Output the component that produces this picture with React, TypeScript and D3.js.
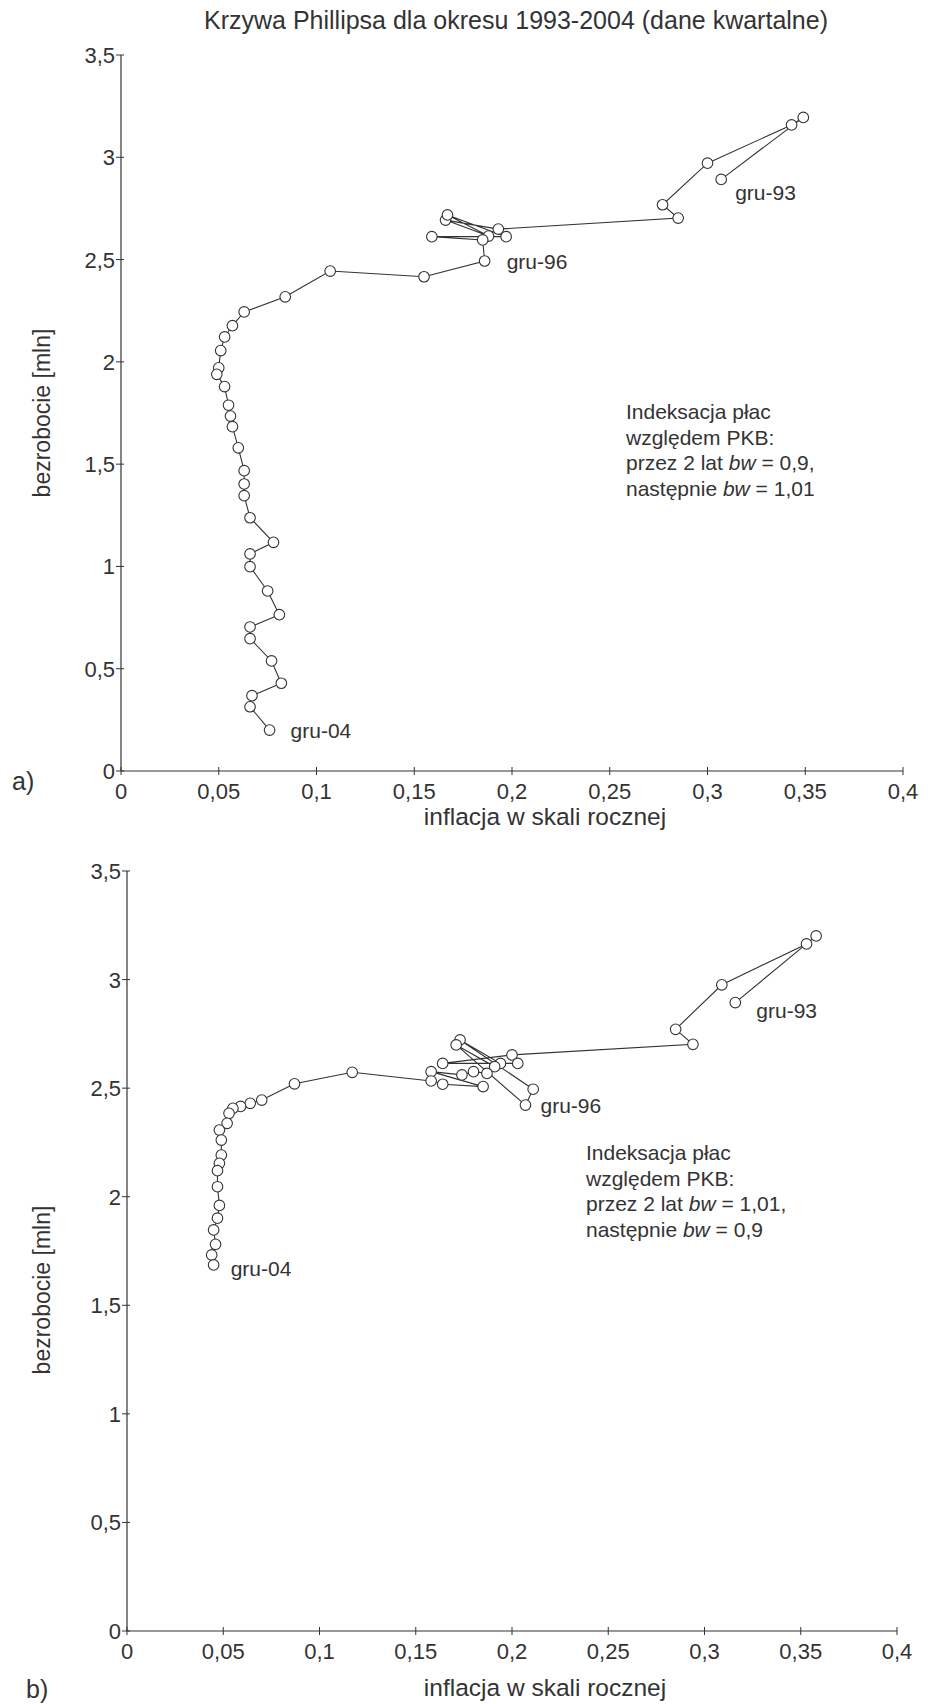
import React, { useEffect } from "react";
import * as d3 from "d3";

// wspólne osie
const xTicks = [0, 0.05, 0.1, 0.15, 0.2, 0.25, 0.3, 0.35, 0.4];
const yTicks = [0, 0.5, 1, 1.5, 2, 2.5, 3, 3.5];

// a) bw = 0,9 przez 2 lata, potem 1,01  (gru-93 ... gru-04)
const inflacjaA = [
  0.307, 0.349, 0.343, 0.300, 0.277, 0.285, 0.193, 0.166, 0.188, 0.167, 0.197,
  0.159, 0.185, 0.186, 0.155, 0.107, 0.084, 0.063, 0.057, 0.053, 0.051, 0.050,
  0.049, 0.053, 0.055, 0.056, 0.057, 0.060, 0.063, 0.063, 0.063, 0.066, 0.078,
  0.066, 0.066, 0.075, 0.081, 0.066, 0.066, 0.077, 0.082, 0.067, 0.066, 0.076,
];
const bezrobocieA = [
  2.892, 3.195, 3.158, 2.971, 2.768, 2.703, 2.649, 2.693, 2.615, 2.718, 2.612,
  2.612, 2.596, 2.493, 2.416, 2.444, 2.318, 2.244, 2.177, 2.122, 2.055, 1.971,
  1.939, 1.879, 1.788, 1.735, 1.683, 1.58, 1.468, 1.403, 1.346, 1.238, 1.118,
  1.061, 0.999, 0.88, 0.764, 0.704, 0.647, 0.538, 0.429, 0.368, 0.314, 0.2,
];

// b) bw = 1,01 przez 2 lata, potem 0,9
const inflacjaB = [
  0.316, 0.358, 0.353, 0.309, 0.285, 0.294, 0.2, 0.164, 0.203, 0.194, 0.173,
  0.211, 0.207, 0.171, 0.191, 0.187, 0.18, 0.174, 0.158, 0.185, 0.164, 0.158,
  0.117, 0.087, 0.07, 0.064, 0.059, 0.055, 0.053, 0.052, 0.048, 0.049, 0.049,
  0.048, 0.047, 0.047, 0.048, 0.047, 0.045, 0.046, 0.044, 0.045,
];
const bezrobocieB = [
  2.894, 3.201, 3.164, 2.976, 2.771, 2.702, 2.653, 2.614, 2.614, 2.614, 2.722,
  2.495, 2.422, 2.699, 2.599, 2.568, 2.576, 2.561, 2.576, 2.507, 2.518, 2.533,
  2.573, 2.52, 2.445, 2.43, 2.416, 2.407, 2.384, 2.338, 2.307, 2.261, 2.192,
  2.154, 2.12, 2.046, 1.96, 1.901, 1.847, 1.781, 1.732, 1.686,
];

const etykietyA = [
  { i: 0, t: "gru-93" },
  { i: 13, t: "gru-96" },
  { i: inflacjaA.length - 1, t: "gru-04" },
];
const etykietyB = [
  { i: 0, t: "gru-93" },
  { i: 12, t: "gru-96" },
  { i: inflacjaB.length - 1, t: "gru-04" },
];

const opisA = ["0,9,", "1,01"];
const opisB = ["1,01,", "0,9"];

const INK = "#333";
const FONT = "'Liberation Sans', Arial, sans-serif";
const fmt = (v: number) => String(v).replace(".", ",");

type PanelProps = {
  xs: number[];
  ys: number[];
  labels: { i: number; t: string }[];
  offsets: [number, number][];
  opis: string[];
  letter: string;
  left: number;
  right: number;
  top: number;
  bottom: number;
  note: [number, number];
  yTitle: number;
  xTitle: [number, number];
  letterPos: [number, number];
};

function Panel(p: PanelProps) {
  const x = d3.scaleLinear().domain([0, 0.4]).range([p.left, p.right]);
  const y = d3.scaleLinear().domain([0, 3.5]).range([p.bottom, p.top]);
  const pts = p.xs.map((v, i) => [v, p.ys[i]] as [number, number]);
  const line = d3
    .line<[number, number]>()
    .x((d) => x(d[0]))
    .y((d) => y(d[1]));

  return (
    <g fontFamily={FONT} fill={INK}>
      {/* osie */}
      <line x1={x(0)} x2={x(0.4)} y1={y(0)} y2={y(0)} stroke={INK} strokeWidth={1.2} />
      <line x1={x(0)} x2={x(0)} y1={y(0)} y2={y(3.5)} stroke={INK} strokeWidth={1.2} />
      {xTicks.map((t) => (
        <g key={"x" + t}>
          <line x1={x(t)} x2={x(t)} y1={y(0) - 4} y2={y(0) + 4} stroke={INK} strokeWidth={1} />
          <text x={x(t)} y={y(0) + 28} fontSize={22} textAnchor="middle">
            {fmt(t)}
          </text>
        </g>
      ))}
      {yTicks.map((t) => (
        <g key={"y" + t}>
          <line x1={x(0) - 5} x2={x(0) + 3} y1={y(t)} y2={y(t)} stroke={INK} strokeWidth={1} />
          <text x={x(0) - 6} y={y(t) + 8} fontSize={22} textAnchor="end">
            {fmt(t)}
          </text>
        </g>
      ))}

      {/* seria */}
      <path d={line(pts) || ""} fill="none" stroke={INK} strokeWidth={1.1} />
      {pts.map((d, i) => (
        <circle key={i} cx={x(d[0])} cy={y(d[1])} r={5.3} fill="#fff" stroke={INK} strokeWidth={1.1} />
      ))}
      {p.labels.map((l, k) => (
        <text
          key={l.t}
          x={x(p.xs[l.i]) + p.offsets[k][0]}
          y={y(p.ys[l.i]) + p.offsets[k][1]}
          fontSize={21}
        >
          {l.t}
        </text>
      ))}

      {/* opis */}
      <text x={p.note[0]} y={p.note[1]} fontSize={21}>
        <tspan x={p.note[0]} dy={0}>Indeksacja płac</tspan>
        <tspan x={p.note[0]} dy={25.5}>względem PKB:</tspan>
        <tspan x={p.note[0]} dy={25.5}>przez 2 lat </tspan>
        <tspan fontStyle="italic">bw</tspan>
        <tspan> = {p.opis[0]}</tspan>
        <tspan x={p.note[0]} dy={25.5}>następnie </tspan>
        <tspan fontStyle="italic">bw</tspan>
        <tspan> = {p.opis[1]}</tspan>
      </text>

      {/* tytuły osi */}
      <text x={p.xTitle[0]} y={p.xTitle[1]} fontSize={24.5} textAnchor="middle">
        inflacja w skali rocznej
      </text>
      <text
        transform={`translate(50,${p.yTitle}) rotate(-90)`}
        fontSize={23}
        textAnchor="middle"
      >
        bezrobocie [mln]
      </text>
      <text x={p.letterPos[0]} y={p.letterPos[1]} fontSize={25}>
        {p.letter}
      </text>
    </g>
  );
}

export default function App() {
  useEffect(() => {
    document.body.style.margin = "0";
  }, []);

  return (
    <div style={{ position: "absolute", left: 0, top: 0 }}>
      <svg width={943} height={1704} viewBox="0 0 943 1704" style={{ display: "block", background: "#fff" }}>
        <rect width={943} height={1704} fill="#fff" />
        <text x={516} y={29} fontSize={25} textAnchor="middle" fontFamily={FONT} fill={INK}>
          Krzywa Phillipsa dla okresu 1993-2004 (dane kwartalne)
        </text>
        <Panel
          xs={inflacjaA}
          ys={bezrobocieA}
          labels={etykietyA}
          offsets={[[14, 21], [22, 8], [21, 8]]}
          opis={opisA}
          letter="a)"
          left={121}
          right={903}
          top={55}
          bottom={771}
          note={[626, 419]}
          yTitle={413}
          xTitle={[545, 825]}
          letterPos={[12, 790]}
        />
        <Panel
          xs={inflacjaB}
          ys={bezrobocieB}
          labels={etykietyB}
          offsets={[[21, 15], [15, 8], [17, 11]]}
          opis={opisB}
          letter="b)"
          left={127}
          right={897}
          top={871}
          bottom={1631}
          note={[586, 1160]}
          yTitle={1290}
          xTitle={[545, 1696]}
          letterPos={[26, 1698]}
        />
      </svg>
    </div>
  );
}
